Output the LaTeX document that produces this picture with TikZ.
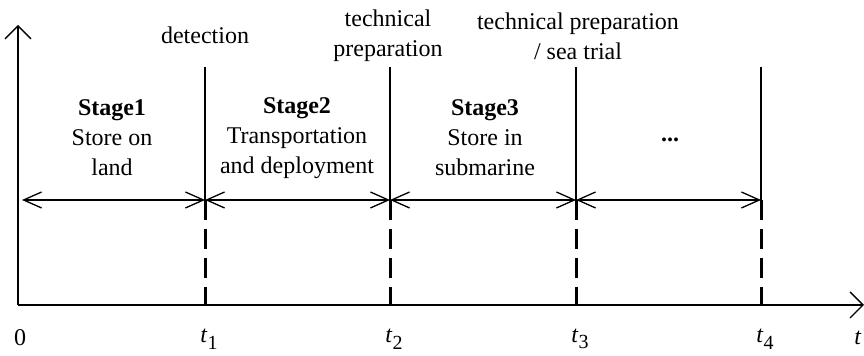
\documentclass[tikz,border=0pt]{standalone}
\usepackage{fontspec}
\setmainfont{Liberation Serif}
\usetikzlibrary{arrows.meta}
\newcommand{\tlabel}[1]{\textit{t}\raisebox{-0.6ex}{\fontsize{10}{10}\selectfont #1}}
\begin{document}
\begin{tikzpicture}[x=0.5pt,y=0.5pt,font=\fontsize{12}{15}\selectfont,
    axis/.style={line width=0.65pt,-{Straight Barb[length=6.5pt,width=13pt]}},
    span/.style={line width=0.65pt,{Straight Barb[length=9pt,width=8pt]}-{Straight Barb[length=9pt,width=8pt]}},
    mark line/.style={line width=0.65pt},
    cut line/.style={line width=1.5pt,dash pattern=on 10pt off 4.5pt},
    stage/.style={align=center,inner sep=0pt},
    event/.style={align=center,inner sep=0pt}]
    \useasboundingbox (0,0) rectangle (864,356);
    % axes
    \coordinate (o) at (18,51);
    \coordinate (ytop) at (18,331);
    \coordinate (xend) at (864,51);
    \draw[axis] (o) -- (ytop);
    \draw[axis] (o) -- (xend);
    % time marks
    \foreach \n/\x in {1/205,2/390,3/576,4/761} {
        \coordinate (top\n) at (\x,289);
        \coordinate (mid\n) at (\x,156);
        \coordinate (bot\n) at (\x,51);
        \draw[mark line] (top\n) -- (mid\n);
        \draw[cut line] (mid\n) -- (bot\n);
        \node (t\n) at (\x+4,17) {\tlabel{\n}};
    }
    \coordinate (mid0) at (22,156);
    \node (zero) at (20,18) {0};
    \node (tend) at (858,18) {\textit{t}};
    % stage spans
    \draw[span] (mid0) -- (mid1);
    \draw[span] (mid1) -- (mid2);
    \draw[span] (mid2) -- (mid3);
    \draw[span] (mid3) -- (mid4);
    % stage texts
    \node[stage] (s1) at (112,218) {\textbf{Stage1}\\Store on\\land};
    \node[stage] (s2) at (297,218) {\textbf{Stage2}\\Transportation\\and deployment};
    \node[stage] (s3) at (485,218) {\textbf{Stage3}\\Store in\\submarine};
    \node[stage] (s4) at (670,216) {\textbf{...}};
    % events
    \node[event] (e1) at (205,321) {detection};
    \node[event] (e2) at (388,320) {technical\\preparation};
    \node[event] (e3) at (578,320) {technical preparation\\/ sea trial};
\end{tikzpicture}
\end{document}
